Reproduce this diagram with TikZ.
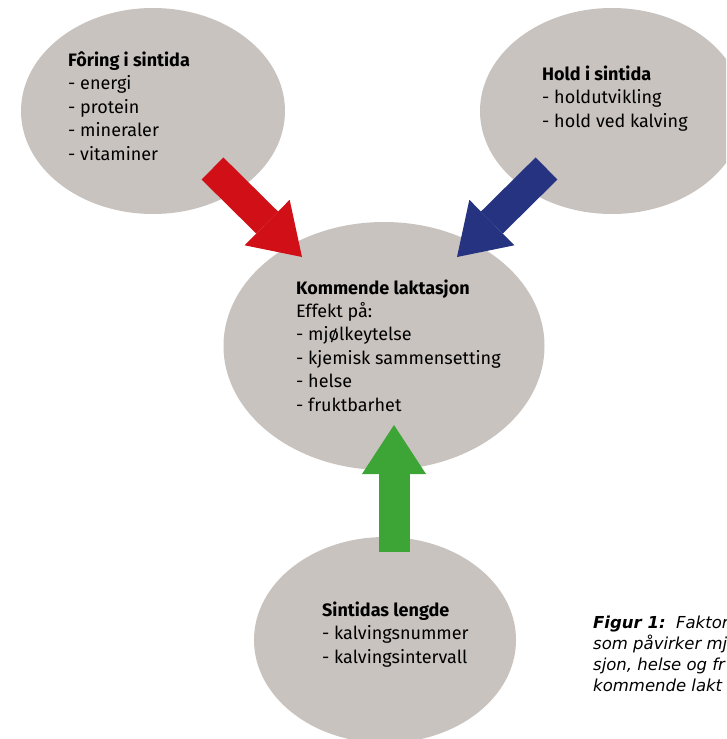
\documentclass[tikz,border=0pt]{standalone}
\usepackage{fontspec}
\setmainfont{Fira Sans}
\newfontfamily\capfont{DejaVu Sans}
\usetikzlibrary{arrows.meta,shapes.geometric,positioning}

\definecolor{blobgrey}{RGB}{201,195,191}
\definecolor{arrowred}{RGB}{208,16,22}
\definecolor{arrowblue}{RGB}{37,51,128}
\definecolor{arrowgreen}{RGB}{61,165,53}

\tikzset{
  blob/.style={ellipse, fill=blobgrey, inner sep=0pt},
  blobtext/.style={anchor=base west, align=left, inner sep=0pt,
                   font=\fontsize{18}{23.4}\selectfont},
  fatarrow/.style={line width=31pt,
                   -{Triangle[width=64pt,length=49pt,line width=0pt]}},
}

\begin{document}
\begin{tikzpicture}[x=1pt,y=-1pt]
  \useasboundingbox (0,0) rectangle (726,739);
  \clip (0,0) rectangle (726,739);

  % the four bubbles
  \node[blob, minimum width=264pt, minimum height=206pt] (foring) at (153,111) {};
  \node[blob, minimum width=264pt, minimum height=206pt] (hold) at (612,111) {};
  \node[blob, minimum width=321pt, minimum height=248pt] (laktasjon) at (384,346) {};
  \node[blob, minimum width=262pt, minimum height=206pt] (lengde) at (385,640) {};

  % arrows into the coming lactation
  \coordinate (redtail) at (212.5,168.5);
  \coordinate (redtip) at (302,257);
  \coordinate (bluetail) at (546.5,168.5);
  \coordinate (bluetip) at (457,257);
  \coordinate (greentail) at (394,552);
  \coordinate (greentip) at (394,425);
  \draw[fatarrow, arrowred] (redtail) -- (redtip);
  \draw[fatarrow, arrowblue] (bluetail) -- (bluetip);
  \draw[fatarrow, arrowgreen] (greentail) -- (greentip);

  % texts (anchored at the last line)
  \node[blobtext] (foringtext) at (68,160)
    {\textbf{Fôring i sintida}\\- energi\\- protein\\- mineraler\\- vitaminer};
  \node[blobtext] (holdtext) at (542,127)
    {\textbf{Hold i sintida}\\- holdutvikling\\- hold ved kalving};
  \node[blobtext] (laktasjontext) at (296,411)
    {\textbf{Kommende laktasjon}\\Effekt på:\\- mjølkeytelse\\- kjemisk sammensetting\\- helse\\- fruktbarhet};
  \node[blobtext] (lengdetext) at (322,663)
    {\textbf{Sintidas lengde}\\- kalvingsnummer\\- kalvingsintervall};

  % caption, cut at the right edge
  \node[anchor=base west, align=left, inner sep=0pt,
        font=\capfont\fontsize{16.5}{20.8}\selectfont\itshape] (caption) at (593,691)
    {\textbf{Figur 1:}\ \ Faktore\\som påvirker mj\\sjon, helse og fr\\kommende lakt};
\end{tikzpicture}
\end{document}
